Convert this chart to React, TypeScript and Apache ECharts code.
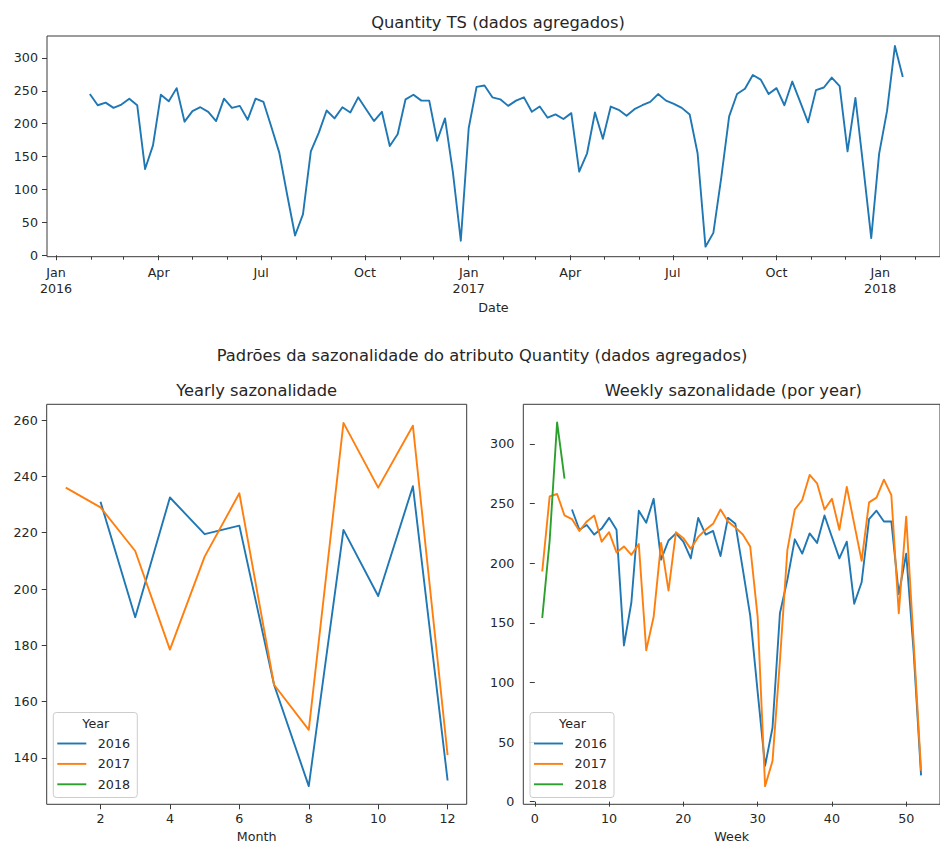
import React, { useEffect, useRef } from "react";
import * as echarts from "echarts";

// Weekly aggregated Quantity, by week number
const weeks2016 = Array.from({ length: 48 }, (_, i) => i + 5); // weeks 5..52
const values2016 = [
  245, 228, 232, 224, 229, 238, 228, 131, 167, 244,
  234, 254, 203, 219, 225, 218, 204, 238, 224, 227,
  206, 238, 233, 195, 156, 92, 30, 62, 158, 186,
  220, 208, 225, 217, 240, 222, 204, 218, 166, 184,
  237, 244, 235, 235, 174, 208, 126, 22,
];
const weeks2017 = Array.from({ length: 52 }, (_, i) => i + 1);
const values2017 = [
  193, 256, 258, 240, 237, 227, 235, 240, 218, 226,
  209, 214, 207, 216, 127, 155, 217, 177, 226, 221,
  212, 222, 228, 233, 245, 235, 230, 224, 214, 155,
  13, 34, 118, 211, 245, 253, 274, 267, 245, 254,
  228, 264, 233, 202, 251, 255, 270, 257, 158, 239,
  134, 26,
];
const weeks2018 = [1, 2, 3, 4];
const values2018 = [154, 219, 318, 271];

// Monthly means
const months2016 = [2, 3, 4, 5, 6, 7, 8, 9, 10, 11, 12];
const monthly2016 = [231, 190, 232.5, 219.5, 222.5, 166, 130, 221, 197.5, 236.5, 132];
const months2017 = [1, 2, 3, 4, 5, 6, 7, 8, 9, 10, 11, 12];
const monthly2017 = [236, 229, 213.5, 178.5, 211.5, 234, 166, 150, 259, 236, 258, 141];
const months2018 = [1];
const monthly2018 = [240.5];

const yearNames = ["2016", "2017", "2018"];
const monthNames = ["Jan", "Feb", "Mar", "Apr", "May", "Jun", "Jul", "Aug", "Sep", "Oct", "Nov", "Dec"];
const firstWeekDate = Date.UTC(2016, 0, 31);
const DAY = 86400000;

const COLORS = ["#1f77b4", "#ff7f0e", "#2ca02c"];
const FONT = "DejaVu Sans";
const TXT = "#262626";
const SPINE = "#3a3a3a";
const FS = 12.7;
const TFS = 16.3;
const LW = 1.9;

export default function App() {
  const ref = useRef<HTMLDivElement>(null);

  useEffect(() => {
    if (!ref.current) return;
    const chart = echarts.init(ref.current, undefined, { renderer: "svg" });

    const allValues = values2016.concat(values2017, values2018);
    const tsData = allValues.map((v, k) => [firstWeekDate + k * 7 * DAY, v]);

    const T0 = Date.UTC(2015, 11, 24);
    const T1 = Date.UTC(2018, 1, 23);
    const quarterTicks: number[] = [];
    const monthTicks: number[] = [];
    for (let y = 2016; y <= 2018; y++) {
      for (let m = 0; m < 12; m++) {
        const t = Date.UTC(y, m, 1);
        if (t < T0 || t > T1) continue;
        if (m % 3 === 0) quarterTicks.push(t);
        else monthTicks.push(t);
      }
    }

    const labelStyle = { fontFamily: FONT, fontSize: FS, color: TXT };
    const tick = (vals: number[], len = 5) => ({
      show: true,
      customValues: vals,
      length: len,
      lineStyle: { color: SPINE, width: 1 },
    });
    const gridBase = {
      show: true,
      borderColor: SPINE,
      borderWidth: 1,
      backgroundColor: "transparent",
      containLabel: false,
    };

    const line = (name: string, xi: number, yi: number, data: number[][], color: string) => ({
      type: "line",
      name,
      xAxisIndex: xi,
      yAxisIndex: yi,
      data,
      symbol: "none",
      showSymbol: false,
      lineStyle: { color, width: LW, join: "round" },
      itemStyle: { color },
      emphasis: { disabled: true },
    });

    const pairs = (xs: number[], ys: number[]) => xs.map((x, i) => [x, ys[i]]);

    const legendGraphic = (x0: number) => {
      const els: any[] = [
        {
          type: "rect",
          shape: { x: x0, y: 712.5, width: 84, height: 85, r: 3 },
          style: { fill: "rgba(255,255,255,0.85)", stroke: "#cccccc", lineWidth: 1 },
          z: 100,
        },
        {
          type: "text",
          x: x0 + 42.5,
          y: 723.5,
          style: { text: "Year", fontFamily: FONT, fontSize: FS, fill: TXT, align: "center", verticalAlign: "middle" },
          z: 101,
        },
      ];
      yearNames.forEach((nm, i) => {
        const yy = 743.5 + i * 20.4;
        els.push({
          type: "line",
          shape: { x1: x0 + 4, y1: yy, x2: x0 + 33, y2: yy },
          style: { stroke: COLORS[i], lineWidth: LW },
          z: 101,
        });
        els.push({
          type: "text",
          x: x0 + 44.5,
          y: yy,
          style: { text: nm, fontFamily: FONT, fontSize: FS, fill: TXT, align: "left", verticalAlign: "middle" },
          z: 101,
        });
      });
      return els;
    };

    const titleText = (text: string, x: number, y: number, size = TFS) => ({
      type: "text",
      x,
      y,
      style: { text, fontFamily: FONT, fontSize: size, fill: TXT, align: "center", verticalAlign: "middle" },
      z: 101,
    });

    const option: any = {
      animation: false,
      backgroundColor: "#ffffff",
      grid: [
        { ...gridBase, left: 47, top: 36, width: 900, height: 220.7 },
        { ...gridBase, left: 46.7, top: 404.3, width: 420, height: 400 },
        { ...gridBase, left: 523.3, top: 404.3, width: 420, height: 400 },
      ],
      xAxis: [
        {
          gridIndex: 0,
          type: "value",
          min: T0,
          max: T1,
          position: "bottom",
          axisLine: { show: false },
          splitLine: { show: false },
          axisTick: tick(quarterTicks, 5),
          axisLabel: {
            ...labelStyle,
            customValues: quarterTicks,
            margin: 8,
            lineHeight: 16,
            formatter: (v: number) => {
              const d = new Date(v);
              const m = d.getUTCMonth();
              return m === 0 ? monthNames[m] + "\n" + d.getUTCFullYear() : monthNames[m];
            },
          },
          name: "Date",
          nameLocation: "middle",
          nameGap: 44,
          nameTextStyle: labelStyle,
        },
        {
          gridIndex: 0,
          type: "value",
          min: T0,
          max: T1,
          position: "bottom",
          axisLine: { show: false },
          splitLine: { show: false },
          axisTick: tick(monthTicks, 3),
          axisLabel: { show: false },
        },
        {
          gridIndex: 1,
          type: "value",
          min: 0.45,
          max: 12.55,
          position: "bottom",
          axisLine: { show: false },
          splitLine: { show: false },
          axisTick: tick([2, 4, 6, 8, 10, 12]),
          axisLabel: { ...labelStyle, customValues: [2, 4, 6, 8, 10, 12], margin: 8 },
          name: "Month",
          nameLocation: "middle",
          nameGap: 26,
          nameTextStyle: labelStyle,
        },
        {
          gridIndex: 2,
          type: "value",
          min: -1.55,
          max: 54.55,
          position: "bottom",
          axisLine: { show: false },
          splitLine: { show: false },
          axisTick: tick([0, 10, 20, 30, 40, 50]),
          axisLabel: { ...labelStyle, customValues: [0, 10, 20, 30, 40, 50], margin: 8 },
          name: "Week",
          nameLocation: "middle",
          nameGap: 26,
          nameTextStyle: labelStyle,
        },
      ],
      yAxis: [
        {
          gridIndex: 0,
          type: "value",
          min: -2.25,
          max: 333.25,
          axisLine: { show: false },
          splitLine: { show: false },
          axisTick: tick([0, 50, 100, 150, 200, 250, 300]),
          axisLabel: { ...labelStyle, customValues: [0, 50, 100, 150, 200, 250, 300], margin: 9 },
        },
        {
          gridIndex: 1,
          type: "value",
          min: 123.55,
          max: 265.6,
          axisLine: { show: false },
          splitLine: { show: false },
          axisTick: tick([140, 160, 180, 200, 220, 240, 260]),
          axisLabel: { ...labelStyle, customValues: [140, 160, 180, 200, 220, 240, 260], margin: 9 },
        },
        {
          gridIndex: 2,
          type: "value",
          min: -2.25,
          max: 333.25,
          axisLine: { show: false },
          splitLine: { show: false },
          axisTick: tick([0, 50, 100, 150, 200, 250, 300]),
          axisLabel: { ...labelStyle, customValues: [0, 50, 100, 150, 200, 250, 300], margin: 9 },
        },
      ],
      series: [
        line("Quantity", 0, 0, tsData, COLORS[0]),
        line("2016", 2, 1, pairs(months2016, monthly2016), COLORS[0]),
        line("2017", 2, 1, pairs(months2017, monthly2017), COLORS[1]),
        line("2018", 2, 1, pairs(months2018, monthly2018), COLORS[2]),
        line("2016", 3, 2, pairs(weeks2016, values2016), COLORS[0]),
        line("2017", 3, 2, pairs(weeks2017, values2017), COLORS[1]),
        line("2018", 3, 2, pairs(weeks2018, values2018), COLORS[2]),
      ],
      graphic: [
        titleText("Quantity TS (dados agregados)", 498, 22),
        titleText("Padrões da sazonalidade do atributo Quantity (dados agregados)", 482, 355),
        titleText("Yearly sazonalidade", 256.7, 390),
        titleText("Weekly sazonalidade (por year)", 733.3, 390),
        ...legendGraphic(53.3),
        ...legendGraphic(530),
      ],
    };

    chart.setOption(option);
    return () => chart.dispose();
  }, []);

  return (
    <div
      ref={ref}
      style={{ position: "fixed", left: 0, top: 0, width: 940, height: 848, background: "#fff" }}
    />
  );
}
